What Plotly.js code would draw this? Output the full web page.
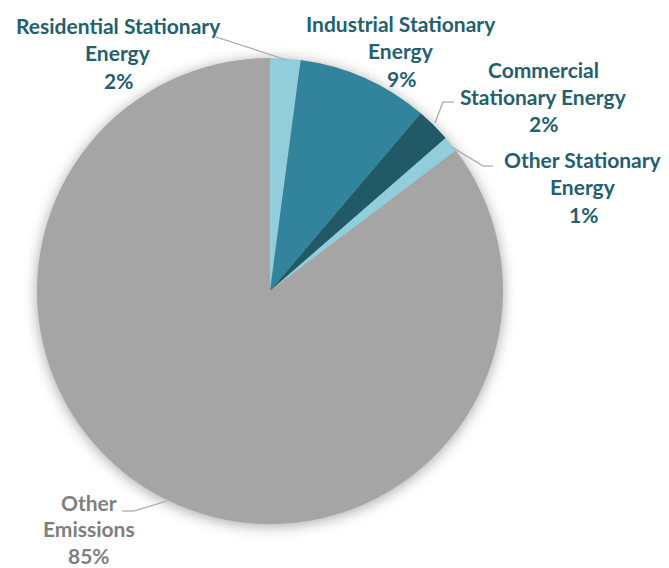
<!DOCTYPE html>
<html>
<head>
<meta charset="utf-8">
<script src="https://cdn.plot.ly/plotly-3.0.1.min.js"></script>
<style>
html,body{margin:0;padding:0;background:#fff;}
#chart{width:669px;height:568px;}
.pielayer .trace{filter: drop-shadow(0px 2px 7px rgba(0,0,0,0.35));}
</style>
</head>
<body>
<div id="chart"></div>
<script>
// Data
const categories = ["Residential Stationary Energy","Industrial Stationary Energy","Commercial Stationary Energy","Other Stationary Energy","Other Emissions"];
const values = [2.1, 9.1, 2.4, 1.1, 85.3];
const labelLines = [["Residential Stationary","Energy"],["Industrial Stationary","Energy"],["Commercial","Stationary Energy"],["Other Stationary","Energy"],["Other","Emissions"]];
const colors = ["#92CDDC","#31849B","#215967","#92CDDC","#A5A5A5"];

const W = 669, H = 568;
const px = x => x / W;
const py = y => 1 - y / H;

// label anchor (center x, first line y) in pixels
const labelPos = [[118, 25], [401, 23], [543, 69], [583, 159], [89, 502]];
const labelColor = ["#235F6E","#235F6E","#235F6E","#235F6E","#7F7F7F"];
const lineGaps = [27.5, 27.5, 27.5, 27.5, 26.5];

const total = values.reduce((a,b)=>a+b,0);
const annotations = [];
labelLines.forEach((lines, i) => {
  const all = lines.concat([Math.round(values[i] / total * 100) + "%"]);
  all.forEach((t, j) => {
    annotations.push({
      xref: "paper", yref: "paper",
      x: px(labelPos[i][0]), y: py(labelPos[i][1] + j * lineGaps[i]),
      xanchor: "center", yanchor: "middle",
      text: t, showarrow: false, borderpad: 0,
      font: {family: "Lato, 'Open Sans', sans-serif", size: 21, color: labelColor[i], weight: 700}
    });
  });
});

// leader lines (pixel segments)
const leaders = [
  [[216,37],[287,60]],
  [[454,102],[443,102]], [[443,102],[435,123]],
  [[452,147],[483,166]], [[483,166],[493,166]],
  [[122,511],[134,511]], [[134,511],[167,501]]
];
const shapes = leaders.map(s => ({
  type: "line", xref: "paper", yref: "paper",
  x0: px(s[0][0]), y0: py(s[0][1]), x1: px(s[1][0]), y1: py(s[1][1]),
  line: {color: "#A6A6A6", width: 1.2}
}));

const cx = 270, cy = 291, r = 233;
const trace = {
  type: "pie",
  labels: categories,
  values: values,
  sort: false,
  direction: "clockwise",
  rotation: 0,
  textinfo: "none",
  hoverinfo: "label+percent",
  marker: {colors: colors, line: {width: 0}},
  domain: {x: [px(cx - r), px(cx + r)], y: [py(cy + r), py(cy - r)]}
};

Plotly.newPlot("chart", [trace], {
  width: W, height: H,
  margin: {l:0, r:0, t:0, b:0},
  showlegend: false,
  paper_bgcolor: "#fff",
  annotations: annotations,
  shapes: shapes
}, {displayModeBar: false, staticPlot: true});
</script>
</body>
</html>
